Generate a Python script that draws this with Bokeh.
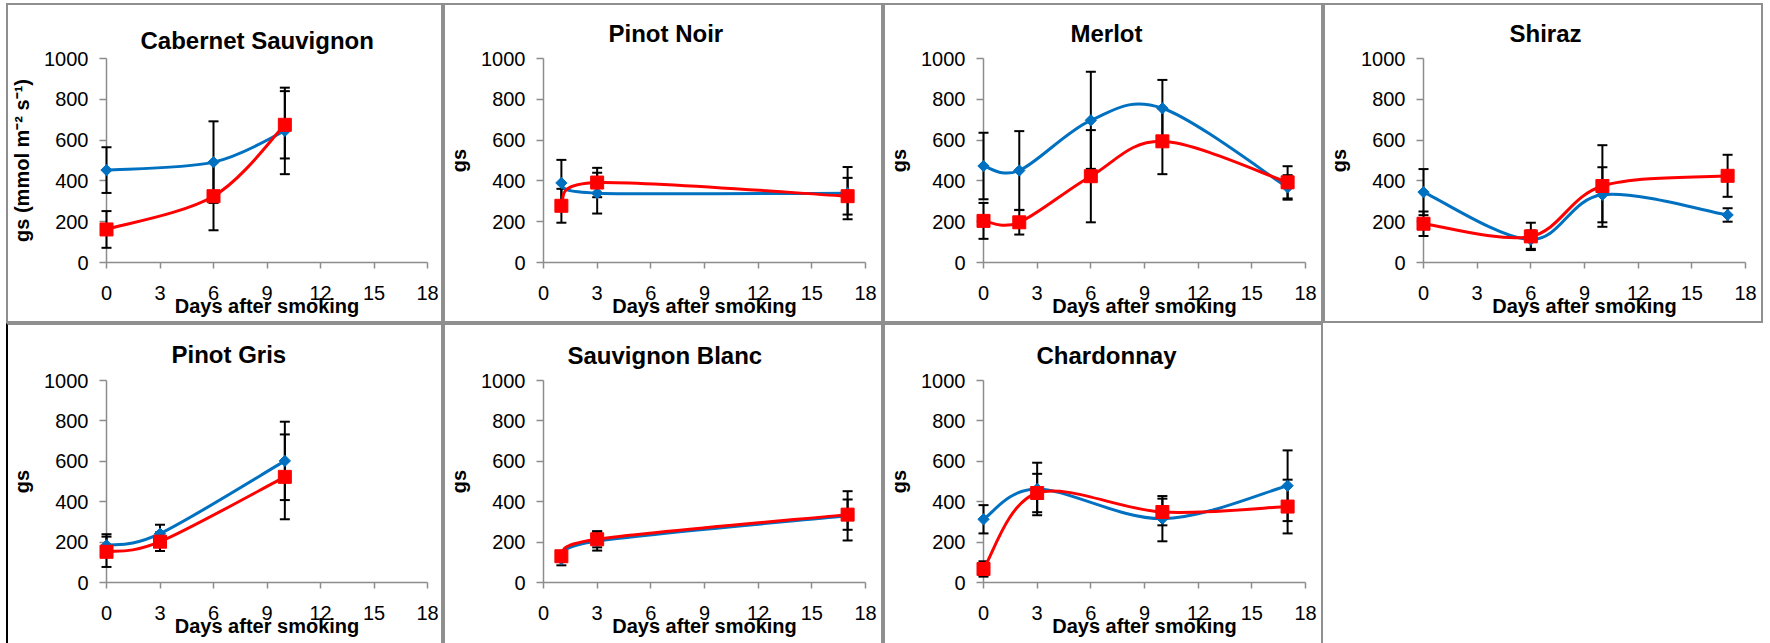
import numpy as np
from bokeh.plotting import figure
from bokeh.layouts import column, row
from bokeh.models import FixedTicker, Title, Spacer
from bokeh.embed import file_html
from bokeh.resources import INLINE

# ---------------- data ----------------
x_ticks = [0, 3, 6, 9, 12, 15, 18]
y_ticks = [0, 200, 400, 600, 800, 1000]

cab_days = [0, 6, 10]
cab_blue = [453, 492, 645]
cab_blue_err = [112, 200, 212]
cab_red = [162, 325, 675]
cab_red_err = [90, 167, 165]

pn_days = [1, 3, 17]
pn_blue = [390, 340, 340]
pn_blue_err = [113, 100, 128]
pn_red = [278, 392, 325]
pn_red_err = [83, 72, 90]

mer_days = [0, 2, 6, 10, 17]
mer_blue = [473, 451, 697, 756, 368]
mer_blue_err = [163, 193, 238, 139, 60]
mer_red = [204, 197, 423, 594, 393]
mer_red_err = [88, 60, 226, 161, 79]

shz_days = [0, 6, 10, 17]
shz_blue = [345, 112, 332, 233]
shz_blue_err = [113, 45, 135, 33]
shz_red = [190, 128, 375, 425]
shz_red_err = [60, 67, 200, 103]

pg_days = [0, 3, 10]
pg_blue = [184, 242, 602]
pg_blue_err = [55, 44, 194]
pg_red = [152, 202, 523]
pg_red_err = [75, 46, 210]

sb_days = [1, 3, 17]
sb_blue = [115, 205, 330]
sb_blue_err = [30, 47, 122]
sb_red = [130, 214, 336]
sb_red_err = [26, 40, 75]

ch_days = [0, 3, 10, 17]
ch_blue = [313, 463, 316, 479]
ch_blue_err = [70, 130, 112, 175]
ch_red = [67, 443, 349, 376]
ch_red_err = [38, 95, 66, 133]

titles = ["Cabernet Sauvignon", "Pinot Noir", "Merlot", "Shiraz",
          "Pinot Gris", "Sauvignon Blanc", "Chardonnay"]
x_label = "Days after smoking"
y_labels = ["gs (mmol m\u207b\u00b2 s\u207b\u00b9)", "gs", "gs", "gs", "gs", "gs", "gs"]

series = [
    (cab_days, cab_blue, cab_blue_err, cab_red, cab_red_err),
    (pn_days, pn_blue, pn_blue_err, pn_red, pn_red_err),
    (mer_days, mer_blue, mer_blue_err, mer_red, mer_red_err),
    (shz_days, shz_blue, shz_blue_err, shz_red, shz_red_err),
    (pg_days, pg_blue, pg_blue_err, pg_red, pg_red_err),
    (sb_days, sb_blue, sb_blue_err, sb_red, sb_red_err),
    (ch_days, ch_blue, ch_blue_err, ch_red, ch_red_err),
]

# ---------------- styles / layout ----------------
BLUE = "#0070C0"
RED = "#FF0000"
AXIS_GREY = "#8c8c8c"
BORDER_GREY = "#8f8f8f"
FONT = "Liberation Sans"

# width, height (incl. 2px borders), min borders, title offset/standoff
layout = [
    dict(w=437, h=320, l=95, r=18, t=53, b=63, toff=34, tst=9),
    dict(w=440, h=320, l=96, r=20, t=53, b=63, toff=65, tst=24),
    dict(w=440, h=320, l=96, r=20, t=53, b=63, toff=87, tst=23),
    dict(w=440, h=320, l=96, r=20, t=53, b=63, toff=86, tst=24),
    dict(w=437, h=320, l=95, r=18, t=55, b=63, toff=65, tst=26),
    dict(w=440, h=320, l=96, r=20, t=55, b=63, toff=24, tst=23),
    dict(w=440, h=320, l=96, r=20, t=55, b=63, toff=53, tst=23),
]


def bezier_parts(xs, ys):
    """Control points for an Excel-like smoothed line (Catmull-Rom, 1/6)."""
    n = len(xs)
    out = {k: [] for k in ("x0", "y0", "x1", "y1", "cx0", "cy0", "cx1", "cy1")}
    for i in range(n - 1):
        xp, yp = (xs[i - 1], ys[i - 1]) if i > 0 else (xs[i], ys[i])
        xn, yn = (xs[i + 2], ys[i + 2]) if i + 2 < n else (xs[i + 1], ys[i + 1])
        out["x0"].append(xs[i]); out["y0"].append(ys[i])
        out["x1"].append(xs[i + 1]); out["y1"].append(ys[i + 1])
        out["cx0"].append(xs[i] + (xs[i + 1] - xp) / 6.0)
        out["cy0"].append(ys[i] + (ys[i + 1] - yp) / 6.0)
        out["cx1"].append(xs[i + 1] - (xn - xs[i]) / 6.0)
        out["cy1"].append(ys[i + 1] - (yn - ys[i]) / 6.0)
    return out


def make_panel(idx, bottom_row):
    lay = layout[idx]
    days, blue, blue_err, red, red_err = series[idx]
    if bottom_row:
        border = {"border-top": f"2px solid {BORDER_GREY}",
                  "border-left": f"2px solid {'#000000' if idx == 4 else BORDER_GREY}",
                  "border-right": f"2px solid {BORDER_GREY}"}
    else:
        border = {"border": f"2px solid {BORDER_GREY}"}
    p = figure(width=lay["w"], height=lay["h"], x_range=(0, 18), y_range=(0, 1000),
               output_backend="svg", toolbar_location=None,
               min_border_left=lay["l"], min_border_right=lay["r"],
               min_border_top=lay["t"], min_border_bottom=lay["b"],
               outline_line_color=None, background_fill_color="white",
               border_fill_color="white", styles=border)
    p.title = Title(text=titles[idx], align="left", offset=lay["toff"],
                    standoff=lay["tst"], text_font=FONT, text_font_size="24px",
                    text_font_style="bold", text_color="black")
    p.grid.visible = False

    for ax in (p.xaxis[0], p.yaxis[0]):
        ax.axis_line_color = AXIS_GREY
        ax.axis_line_width = 1.5
        ax.major_tick_line_color = AXIS_GREY
        ax.major_tick_line_width = 1.5
        ax.major_tick_in = 0
        ax.minor_tick_line_color = None
        ax.major_label_text_font = FONT
        ax.major_label_text_font_size = "20px"
        ax.major_label_text_color = "black"
        ax.axis_label_text_font = FONT
        ax.axis_label_text_font_size = "20px"
        ax.axis_label_text_font_style = "bold"
        ax.axis_label_text_color = "black"

    p.xaxis.ticker = FixedTicker(ticks=x_ticks)
    p.yaxis.ticker = FixedTicker(ticks=y_ticks)
    p.xaxis.major_tick_out = 6
    p.yaxis.major_tick_out = 7
    p.xaxis.major_label_standoff = 17
    p.yaxis.major_label_standoff = 11
    p.xaxis.axis_label = x_label
    p.yaxis.axis_label = y_labels[idx]
    p.xaxis.axis_label_standoff = -8
    p.yaxis.axis_label_standoff = 8

    d = np.array(days, dtype=float)
    # error bars
    for vals, errs in ((blue, blue_err), (red, red_err)):
        v = np.array(vals, dtype=float)
        e = np.array(errs, dtype=float)
        p.segment(x0=d, y0=v - e, x1=d, y1=v + e, line_color="black",
                  line_width=2, level="overlay")
        p.scatter(x=np.concatenate([d, d]), y=np.concatenate([v - e, v + e]),
                  marker="dash", size=10, line_color="black", line_width=2,
                  level="overlay")
    # blue series
    bp = bezier_parts(days, blue)
    p.bezier(line_color=BLUE, line_width=3, line_cap="round", level="overlay", **bp)
    p.scatter(x=d, y=blue, marker="square", angle=np.pi / 4, size=8,
              fill_color=BLUE, line_color=BLUE, level="overlay")
    # red series
    rp = bezier_parts(days, red)
    p.bezier(line_color=RED, line_width=3, line_cap="round", level="overlay", **rp)
    p.scatter(x=d, y=red, marker="square", size=13,
              fill_color=RED, line_color=RED, level="overlay")
    return p


panels = [make_panel(i, i >= 4) for i in range(7)]
grid = column(Spacer(width=10, height=3), row(*panels[:4]), row(*panels[4:]))
page = row(Spacer(width=6, height=10), grid)

open("out.html", "w").write(file_html(page, INLINE))
